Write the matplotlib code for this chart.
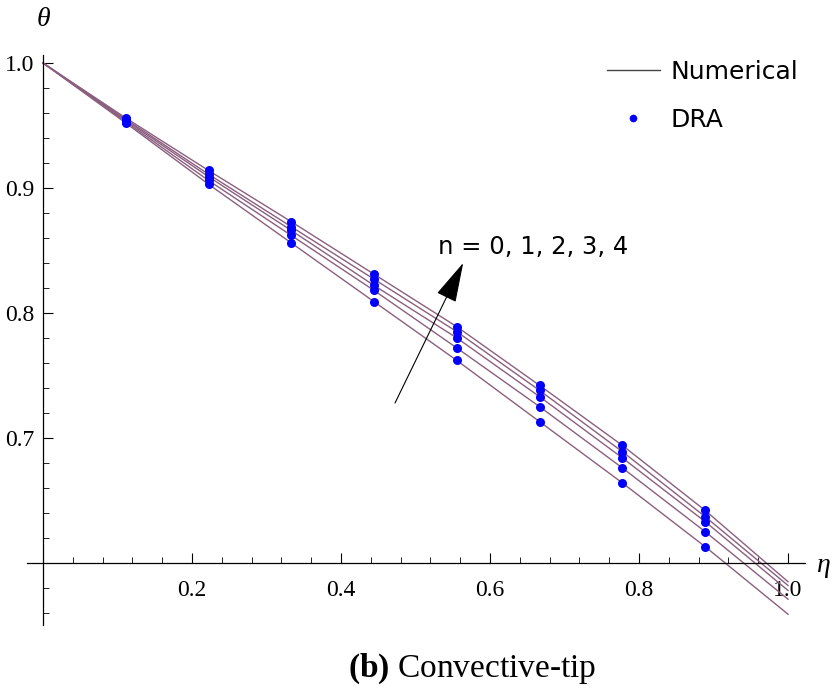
import matplotlib
matplotlib.use('Agg')
import matplotlib.pyplot as plt
from matplotlib.lines import Line2D
import numpy as np

# eta nodes (DRA points sit at eta = k/9)
eta_line = [0.0, 1/9, 2/9, 3/9, 4/9, 5/9, 6/9, 7/9, 8/9, 1.0]
eta_dra = [1/9, 2/9, 3/9, 4/9, 5/9, 6/9, 7/9, 8/9]

# theta, n = 0 .. 4
theta_n0 = [1.0, 0.952, 0.903, 0.856, 0.809, 0.762, 0.713, 0.664, 0.613, 0.559]
theta_n1 = [1.0, 0.953, 0.906, 0.862, 0.818, 0.772, 0.725, 0.676, 0.625, 0.571]
theta_n2 = [1.0, 0.954, 0.909, 0.866, 0.822, 0.780, 0.733, 0.684, 0.633, 0.578]
theta_n3 = [1.0, 0.955, 0.911, 0.869, 0.827, 0.785, 0.738, 0.689, 0.637, 0.582]
theta_n4 = [1.0, 0.956, 0.914, 0.873, 0.831, 0.789, 0.742, 0.694, 0.642, 0.585]
all_theta = [theta_n0, theta_n1, theta_n2, theta_n3, theta_n4]

x_ticks = [0.2, 0.4, 0.6, 0.8, 1.0]
y_ticks = [0.7, 0.8, 0.9, 1.0]

line_color = '#8b5f7f'
dot_color = '#0000ff'
serif = 'Liberation Serif'

plt.rcParams['mathtext.fontset'] = 'custom'
plt.rcParams['mathtext.rm'] = 'Liberation Serif'
plt.rcParams['mathtext.bf'] = 'Liberation Serif:bold'

fig = plt.figure(figsize=(8.34, 6.88), dpi=100)
ax = fig.add_axes([0.0319, 0.0818, 0.9353, 0.8448])
ax.set_xlim(-0.022, 1.025)
ax.set_ylim(0.545, 1.01)

for th in all_theta:
    ax.plot(eta_line, th, color=line_color, lw=1.0, zorder=2)
    ax.plot(eta_dra, th[1:-1], 'o', color=dot_color, ms=6.5, mew=0, zorder=3)

# mathematica-like axes crossing at (0, 0.6)
for s in ['top', 'right']:
    ax.spines[s].set_visible(False)
ax.spines['left'].set_position(('data', 0))
ax.spines['bottom'].set_position(('data', 0.6))
ax.spines['left'].set_bounds(0.55, 1.0065)
ax.spines['bottom'].set_bounds(-0.0215, 1.023)
ax.spines['left'].set_linewidth(0.9)
ax.spines['bottom'].set_linewidth(0.9)

ax.set_xticks(x_ticks)
ax.set_xticklabels(['%.1f' % v for v in x_ticks])
ax.set_xticks(np.arange(0.04, 1.01, 0.04), minor=True)
ax.set_yticks(y_ticks)
ax.set_yticklabels(['%.1f' % v for v in y_ticks])
ax.set_yticks(np.arange(0.56, 1.001, 0.02), minor=True)
ax.tick_params(which='major', direction='in', length=7, width=0.8, labelsize=17)
ax.tick_params(which='minor', direction='in', length=4, width=0.6)
ax.tick_params(axis='x', which='major', pad=12)
ax.tick_params(axis='y', which='major', pad=6)
for lab in ax.get_xticklabels() + ax.get_yticklabels():
    lab.set_family(serif)

fig.text(43/834, 1-20/688, 'θ', family=serif, style='italic', fontsize=20,
         ha='center', va='center')
fig.text(823/834, 1-566/688, 'η', family=serif, style='italic', fontsize=20,
         ha='center', va='center')

handles = [Line2D([], [], color='#444444', lw=1.0),
           Line2D([], [], ls='', marker='o', color=dot_color, ms=5.5, mew=0)]
ax.legend(handles, ['Numerical', 'DRA'], loc='upper left',
          bbox_to_anchor=(607/834, 1-60/688), bbox_transform=fig.transFigure,
          frameon=False, borderpad=0, borderaxespad=0, handlelength=2.1,
          handletextpad=0.45, labelspacing=0.95, prop={'size': 18})

ax.annotate('', xy=(0.564, 0.84), xytext=(0.4725, 0.728),
            arrowprops=dict(arrowstyle='-|>,head_length=1.7,head_width=0.45',
                            mutation_scale=15, lw=0.8, color='black',
                            shrinkA=0, shrinkB=0))
ax.text(0.658, 0.853, 'n = 0, 1, 2, 3, 4', fontsize=17.5, ha='center', va='center')

fig.text(472/834, 1-669/688, r'$\mathbf{(b)}$ Convective-tip', family=serif,
         fontsize=24, ha='center', va='center')

fig.savefig('out.png', dpi=100)
